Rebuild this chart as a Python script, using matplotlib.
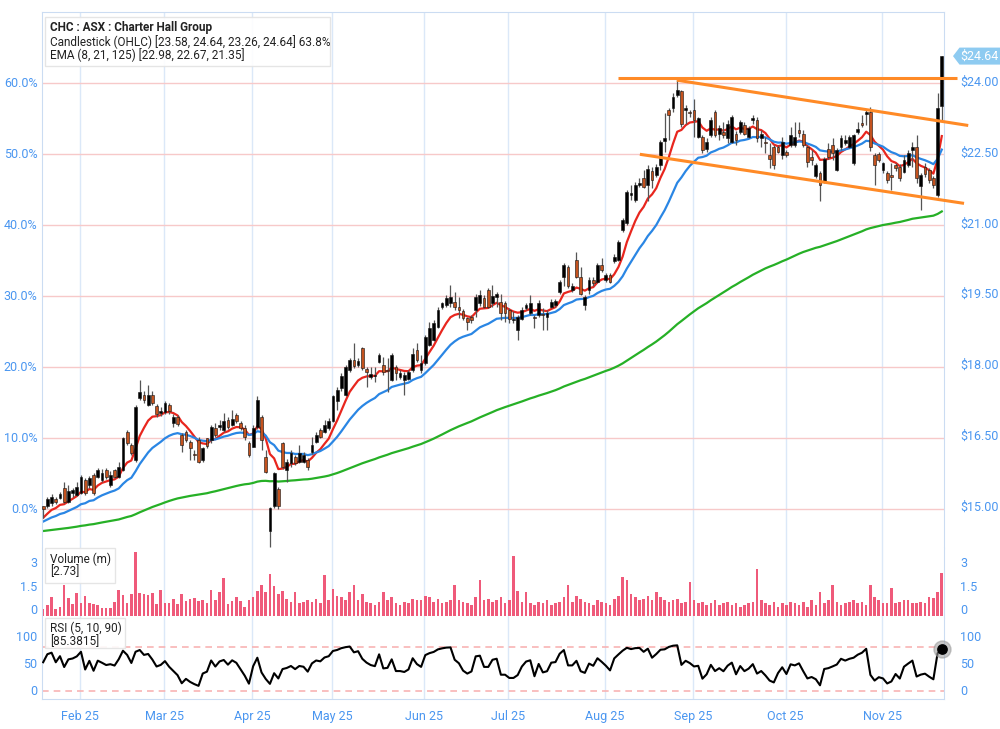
import numpy as np
import pandas as pd
import matplotlib
matplotlib.use('Agg')
import matplotlib.pyplot as plt
from matplotlib.patches import Rectangle, Polygon

plt.rcParams['font.family'] = ['Roboto', 'DejaVu Sans']

# ASX trading days, public holidays removed
days = pd.bdate_range('2025-01-20', '2025-11-21')
holidays = pd.to_datetime(['2025-01-27', '2025-04-18', '2025-04-21', '2025-04-25', '2025-06-09'])
days = days[~days.isin(holidays)]

opens = [
    15.10, 15.10, 15.17, 15.25, 15.28, 15.49, 15.20, 15.38, 15.35, 15.38,
    15.66, 15.55, 15.76, 15.73, 15.66, 15.87, 15.55, 15.87, 15.73, 15.87,
    16.68, 16.40, 16.08, 17.39, 17.46, 17.25, 17.46, 17.22, 17.09, 17.11,
    17.25, 16.86, 17.00, 16.61, 16.68, 16.47, 16.22, 16.51, 16.08, 16.54,
    16.51, 16.76, 16.79, 16.72, 16.93, 16.83, 17.04, 16.86, 16.76, 16.44,
    16.37, 16.79, 16.99, 16.15, 14.57, 15.10, 15.48, 16.44, 15.87, 16.01,
    16.15, 16.05, 16.05, 16.08, 16.26, 16.47, 16.72, 16.68, 16.76, 16.90,
    17.33, 17.60, 17.46, 17.99, 18.20, 18.10, 18.45, 18.02, 17.85, 17.87,
    18.17, 18.10, 18.00, 17.78, 18.06, 17.85, 17.78, 17.81, 17.99, 18.41,
    17.99, 18.13, 18.52, 18.63, 18.91, 19.33, 19.37, 19.40, 19.44, 19.33,
    19.23, 19.09, 19.12, 19.26, 19.40, 19.51, 19.69, 19.40, 19.54, 19.44,
    19.40, 19.26, 19.05, 18.84, 19.08, 19.30, 19.19, 19.12, 19.16, 19.18,
    19.12, 19.33, 19.37, 19.65, 19.97, 20.18, 19.69, 20.32, 19.97, 19.37,
    19.69, 19.90, 19.86, 20.21, 19.90, 20.00, 20.29, 20.32, 20.96, 21.10,
    21.70, 21.59, 21.91, 22.05, 21.90, 22.20, 22.12, 22.33, 22.85, 23.50,
    23.53, 23.81, 23.89, 23.50, 23.46, 23.50, 22.93, 22.93, 22.68, 22.97,
    23.46, 23.00, 23.04, 22.90, 22.83, 23.00, 23.04, 23.18, 22.93, 23.29,
    23.29, 22.90, 22.83, 22.54, 22.72, 22.71, 22.54, 22.61, 22.76, 22.76,
    23.07, 23.00, 22.72, 22.51, 22.09, 22.16, 21.98, 22.67, 22.76, 22.23,
    22.72, 22.79, 22.72, 22.37, 23.04, 23.23, 23.41, 23.46, 22.54, 22.56,
    22.23, 22.16, 22.12, 22.33, 22.30, 22.19, 22.33, 22.65, 22.72, 21.88,
    22.30, 22.23, 22.05, 21.70, 23.58]
highs = [
    15.12, 15.30, 15.36, 15.30, 15.40, 15.62, 15.55, 15.50, 15.62, 15.76,
    15.70, 15.75, 15.80, 15.91, 15.90, 15.92, 15.85, 15.90, 16.05, 16.58,
    16.72, 16.45, 17.25, 17.78, 17.55, 17.67, 17.55, 17.28, 17.20, 17.33,
    17.30, 17.05, 17.03, 16.65, 16.73, 16.50, 16.30, 16.58, 16.37, 16.56,
    16.83, 16.86, 16.93, 17.07, 17.00, 17.15, 17.08, 16.90, 16.83, 16.48,
    16.83, 17.43, 17.03, 16.30, 15.08, 15.83, 15.52, 16.47, 16.10, 16.30,
    16.20, 16.40, 16.26, 16.12, 16.58, 16.68, 16.76, 16.93, 16.98, 17.47,
    17.62, 17.92, 18.10, 18.24, 18.56, 18.24, 18.48, 18.06, 18.06, 18.06,
    18.36, 18.27, 18.24, 18.36, 18.10, 17.99, 17.95, 17.99, 18.45, 18.56,
    18.31, 18.73, 19.01, 19.05, 19.33, 19.44, 19.58, 19.79, 19.65, 19.54,
    19.28, 19.12, 19.16, 19.61, 19.69, 19.58, 19.72, 19.79, 19.65, 19.61,
    19.45, 19.30, 19.23, 19.15, 19.33, 19.42, 19.58, 19.16, 19.47, 19.30,
    19.26, 19.50, 19.50, 19.90, 20.25, 20.22, 19.83, 20.50, 20.18, 19.58,
    19.97, 19.97, 20.25, 20.36, 20.04, 20.04, 20.45, 20.74, 21.20, 21.80,
    21.91, 21.98, 22.05, 22.23, 22.33, 22.30, 22.35, 22.86, 23.43, 23.53,
    23.85, 24.13, 23.92, 23.60, 23.50, 23.74, 23.36, 22.97, 22.90, 23.36,
    23.50, 23.18, 23.25, 23.29, 23.40, 23.05, 23.29, 23.25, 23.15, 23.39,
    23.36, 23.07, 22.93, 22.79, 22.75, 22.75, 22.93, 22.65, 23.14, 23.25,
    23.25, 23.07, 22.76, 22.65, 22.37, 22.20, 22.51, 22.79, 22.90, 22.70,
    22.97, 22.97, 22.97, 23.00, 23.25, 23.39, 23.50, 23.57, 22.58, 22.60,
    22.40, 22.20, 22.37, 22.37, 22.35, 22.54, 22.65, 22.83, 22.97, 22.16,
    22.37, 22.26, 22.10, 23.86, 24.64]
lows = [
    14.85, 15.06, 15.12, 15.15, 15.25, 15.18, 15.18, 15.31, 15.32, 15.36,
    15.35, 15.50, 15.35, 15.70, 15.62, 15.68, 15.52, 15.70, 15.70, 15.85,
    16.40, 16.18, 16.05, 17.35, 17.30, 17.22, 17.25, 17.00, 17.02, 17.05,
    17.05, 16.78, 16.80, 16.26, 16.46, 16.08, 16.09, 16.02, 16.05, 16.33,
    16.45, 16.58, 16.72, 16.68, 16.75, 16.80, 16.86, 16.72, 16.51, 16.15,
    16.35, 16.75, 16.30, 15.80, 14.25, 15.06, 15.05, 15.90, 15.62, 15.94,
    15.98, 16.02, 16.03, 15.87, 16.22, 16.44, 16.54, 16.65, 16.73, 16.88,
    17.15, 17.55, 17.44, 17.95, 18.03, 18.05, 18.00, 17.64, 17.81, 17.74,
    18.13, 17.89, 17.53, 17.75, 17.78, 17.81, 17.46, 17.78, 17.95, 18.17,
    17.92, 18.10, 18.49, 18.60, 18.88, 19.28, 19.33, 19.33, 19.26, 19.09,
    19.05, 18.84, 18.98, 19.12, 19.35, 19.30, 19.30, 19.33, 19.33, 19.05,
    19.01, 18.98, 18.98, 18.63, 19.05, 19.26, 19.16, 18.87, 19.12, 18.84,
    18.84, 19.30, 19.33, 19.61, 19.76, 19.72, 19.65, 19.93, 19.58, 19.26,
    19.61, 19.76, 19.83, 20.07, 19.86, 19.83, 20.25, 20.29, 20.92, 21.06,
    21.59, 21.55, 21.87, 21.84, 21.56, 21.84, 22.08, 22.22, 22.60, 22.86,
    23.46, 23.78, 23.14, 23.20, 23.36, 22.93, 22.90, 22.58, 22.61, 22.93,
    22.93, 22.86, 22.90, 22.79, 22.80, 22.76, 23.00, 22.96, 22.90, 23.21,
    22.83, 22.72, 22.58, 22.26, 22.25, 22.58, 22.47, 22.50, 22.72, 22.72,
    22.93, 22.72, 22.30, 22.33, 22.05, 21.56, 21.95, 22.47, 22.44, 22.20,
    22.65, 22.76, 22.69, 22.33, 23.00, 23.14, 23.18, 22.62, 21.91, 22.40,
    22.16, 21.95, 21.80, 22.20, 22.00, 22.16, 22.30, 22.30, 21.95, 21.38,
    22.08, 21.95, 21.84, 21.66, 23.26]
closes = [
    15.04, 15.25, 15.31, 15.20, 15.37, 15.20, 15.42, 15.45, 15.52, 15.73,
    15.38, 15.70, 15.38, 15.87, 15.80, 15.73, 15.76, 15.73, 15.94, 16.54,
    16.44, 16.23, 17.21, 17.53, 17.36, 17.46, 17.29, 17.05, 17.12, 17.29,
    17.13, 17.00, 16.85, 16.40, 16.51, 16.33, 16.18, 16.05, 16.33, 16.38,
    16.79, 16.61, 16.83, 16.90, 16.79, 16.95, 16.90, 16.76, 16.58, 16.19,
    16.76, 17.35, 16.51, 15.84, 15.06, 15.80, 15.10, 15.94, 16.05, 16.23,
    16.01, 16.23, 16.19, 15.94, 16.40, 16.61, 16.58, 16.83, 16.92, 17.43,
    17.57, 17.86, 18.06, 18.20, 18.08, 18.18, 18.03, 17.95, 17.90, 17.88,
    18.31, 17.95, 17.97, 18.31, 17.92, 17.92, 17.89, 17.95, 18.34, 18.20,
    18.13, 18.70, 18.87, 18.98, 19.26, 19.40, 19.51, 19.54, 19.33, 19.26,
    19.09, 19.01, 19.05, 19.54, 19.58, 19.33, 19.33, 19.56, 19.60, 19.19,
    19.19, 19.08, 19.08, 19.12, 19.26, 19.37, 19.40, 19.10, 19.40, 19.16,
    19.19, 19.44, 19.46, 19.86, 20.21, 19.76, 19.76, 19.97, 19.61, 19.54,
    19.90, 19.83, 20.21, 20.11, 20.00, 19.86, 20.39, 20.71, 21.17, 21.77,
    21.73, 21.91, 21.95, 21.87, 22.24, 22.02, 22.30, 22.83, 22.90, 23.39,
    23.78, 23.92, 23.21, 23.53, 23.43, 23.29, 23.32, 22.65, 22.82, 23.29,
    22.97, 23.11, 22.97, 23.21, 23.36, 22.86, 23.25, 23.00, 23.11, 23.32,
    22.90, 23.00, 22.79, 22.47, 22.33, 22.61, 22.83, 22.54, 22.97, 22.93,
    23.02, 22.76, 22.40, 22.44, 22.33, 21.91, 22.47, 22.51, 22.58, 22.65,
    22.90, 22.86, 22.93, 22.97, 23.09, 23.18, 23.45, 22.72, 22.33, 22.44,
    22.37, 22.02, 22.07, 22.26, 22.05, 22.44, 22.58, 22.72, 22.05, 22.12,
    22.15, 22.02, 21.90, 23.55, 24.64]
# volume in millions
volume = [
    0.43, 0.70, 1.23, 0.45, 0.60, 1.98, 1.13, 0.77, 1.45, 0.85,
    1.30, 0.85, 0.77, 0.70, 0.53, 0.53, 0.53, 0.91, 1.66, 1.34,
    0.85, 1.38, 4.06, 1.45, 1.40, 1.34, 1.45, 0.74, 1.66, 0.85,
    0.85, 1.06, 0.77, 1.38, 0.96, 1.06, 1.17, 0.96, 1.02, 0.85,
    1.66, 1.02, 1.55, 2.40, 0.77, 0.96, 1.23, 0.96, 0.60, 1.02,
    1.20, 1.60, 2.00, 1.50, 2.70, 1.90, 1.40, 1.60, 1.10, 0.90,
    1.50, 0.80, 0.90, 1.00, 0.90, 1.10, 0.80, 2.60, 1.00, 1.70,
    1.30, 1.20, 1.00, 1.50, 2.00, 1.00, 1.40, 0.90, 0.80, 0.70,
    0.90, 1.50, 1.00, 1.20, 0.80, 0.70, 0.90, 0.80, 1.10, 1.00,
    1.00, 1.30, 1.20, 0.90, 1.10, 0.80, 0.90, 1.00, 2.00, 1.00,
    0.90, 0.80, 0.70, 1.20, 2.30, 1.00, 1.10, 0.90, 1.00, 1.20,
    0.80, 1.00, 3.80, 1.60, 0.90, 1.50, 0.80, 0.70, 0.90, 0.80,
    1.00, 0.70, 0.80, 0.90, 1.20, 2.00, 0.90, 1.30, 1.10, 0.90,
    0.80, 0.70, 1.00, 0.90, 0.80, 0.70, 1.10, 1.30, 2.50, 2.30,
    1.40, 1.20, 1.00, 1.10, 1.30, 1.00, 1.50, 1.20, 1.00, 0.90,
    1.00, 1.10, 0.80, 0.90, 2.20, 1.00, 0.80, 0.90, 0.70, 0.80,
    1.00, 0.70, 0.80, 0.90, 0.70, 0.80, 0.60, 0.70, 0.80, 0.90,
    3.00, 1.00, 0.80, 0.70, 0.90, 0.60, 0.80, 0.70, 0.90, 0.80,
    0.70, 0.90, 0.60, 1.00, 0.70, 1.50, 0.80, 1.00, 2.00, 0.90,
    0.70, 0.80, 0.90, 1.00, 0.80, 0.90, 0.70, 2.00, 1.20, 1.02,
    0.81, 0.81, 1.77, 0.81, 0.91, 1.02, 1.02, 0.81, 0.81, 0.91,
    0.81, 1.23, 1.13, 1.55, 2.73]

ema_periods = [8, 21, 125]
ema_first = [14.86, 14.78, 14.58]     # line values at the first bar
ema_colors = ['#e8261e', '#2a86e4', '#26b026']

rsi_period = 5
rsi_levels = [10, 90]

# hand drawn trend lines: (bar index, price)
top_x, top_y = [137.0, 217.6], [24.18, 24.18]
up_x, up_y = [150.9, 220.3], [24.13, 23.17]
low_x, low_y = [142.1, 219.3], [22.56, 21.52]

pct_ticks = [0, 10, 20, 30, 40, 50, 60]
price_ticks = [15.0, 16.5, 18.0, 19.5, 21.0, 22.5, 24.0]
vol_ticks = [0, 1.5, 3]
rsi_ticks = [0, 50, 100]

assert len(days) == len(opens) == len(highs) == len(lows) == len(closes) == len(volume)


def ema(vals, n, first):
    k = 2.0 / (n + 1)
    out = [first]
    for v in vals[1:]:
        out.append(out[-1] + k * (v - out[-1]))
    return np.array(out)


def rsi(vals, n, g0=0.05, l0=0.03):
    ag, al = g0, l0
    out = [100 * ag / (ag + al)]
    for a, b in zip(vals[:-1], vals[1:]):
        d = b - a
        ag = (ag * (n - 1) + max(d, 0)) / n
        al = (al * (n - 1) + max(-d, 0)) / n
        out.append(100 - 100 / (1 + ag / al))
    return np.array(out)


o = np.array(opens); h = np.array(highs); l = np.array(lows); c = np.array(closes)
x = np.arange(len(c))
base = c[0]

blue_txt = '#4a96f0'
frame = '#cbdcf2'
vgrid = '#dbe8f8'
hgrid = '#f7c9c9'

fig = plt.figure(figsize=(10, 7.29), dpi=100)
W, H = 1000.0, 729.0


def box(l_, t_, r_, b_):
    return [l_ / W, 1 - b_ / H, (r_ - l_) / W, (b_ - t_) / H]


ax = fig.add_axes(box(41.5, 12, 944.3, 548))
axv = fig.add_axes(box(41.5, 548, 944.3, 618), sharex=ax)
axr = fig.add_axes(box(41.5, 618, 944.3, 699), sharex=ax)

# month gridlines
month_idx = [i for i in range(1, len(days)) if days[i].month != days[i - 1].month]
month_pos = [i - 0.2 for i in month_idx]
month_lab = [days[i].strftime('%b %y') for i in month_idx]
for a in (ax, axv, axr):
    for p in month_pos:
        a.axvline(p, color=vgrid, lw=1, zorder=0)
    for s in a.spines.values():
        s.set_color(frame)
    a.tick_params(length=0)
    a.set_yticks([])

ax.spines['bottom'].set_visible(False)
axv.spines['top'].set_visible(False)
axv.spines['bottom'].set_visible(False)
axr.spines['top'].set_visible(False)

# main panel
for p in pct_ticks:
    ax.axhline(base * (1 + p / 100), color=hgrid, lw=1, zorder=0)

up = c >= o
ax.vlines(x, l, h, color='#555555', lw=0.9, zorder=3)
body = np.maximum(np.abs(c - o), 0.015)
ax.bar(x, body, bottom=np.minimum(o, c), width=0.66,
       color=np.where(up, '#000000', '#c4521e'), edgecolor='#111111',
       linewidth=0.4, zorder=4)

for n, f, col in zip(ema_periods, ema_first, ema_colors):
    ax.plot(x, ema(c, n, f), color=col, lw=1.6, zorder=2)

for xs, ys in ((top_x, top_y), (up_x, up_y), (low_x, low_y)):
    ax.plot(xs, ys, color='#ff8a26', lw=2.2, zorder=5, clip_on=False,
            solid_capstyle='butt')

ax.set_xlim(-0.4, len(c) - 0.4)
ax.set_ylim(14.22, 25.574)
plt.setp(ax.get_xticklabels(), visible=False)
plt.setp(axv.get_xticklabels(), visible=False)


def ylab(a, val, txt, side, dy):
    if side == 'left':
        a.annotate(txt, xy=(0, val), xycoords=('axes fraction', 'data'),
                   xytext=(-4, dy), textcoords='offset pixels', ha='right',
                   va='center', color=blue_txt, fontsize=9)
    else:
        a.annotate(txt, xy=(1, val), xycoords=('axes fraction', 'data'),
                   xytext=(16, dy), textcoords='offset pixels', ha='left',
                   va='center', color=blue_txt, fontsize=9)


for p in pct_ticks:
    ylab(ax, base * (1 + p / 100), '%.1f%%' % p, 'left', 0)
for p in price_ticks:
    ylab(ax, p, '$%.2f' % p, 'right', 4)

# last price tag (arrow box at the right edge)
yc = H - ax.transData.transform((0, c[-1]))[1]
tag = [(953, yc), (959.5, yc - 8.5), (1000, yc - 8.5), (1000, yc + 8.5), (959.5, yc + 8.5)]
fig.add_artist(Polygon([(px / W, 1 - py / H) for px, py in tag], closed=True,
                       transform=fig.transFigure, fc='#8ecbf1', ec='none', zorder=10))
fig.text(979.5 / W, 1 - yc / H, '$%.2f' % c[-1], color='white', fontsize=9,
         ha='center', va='center', zorder=11)

# volume
axv.bar(x, volume, width=0.62, color='#ef5a7a', zorder=2)
axv.set_ylim(-0.128, 4.34)
for v in vol_ticks:
    lab = ('%g' % v)
    ylab(axv, v, lab, 'left', 5)
    ylab(axv, v, lab, 'right', 5)

# rsi
r = rsi(c, rsi_period)
for lv in rsi_levels:
    axr.axhline(lv, color='#f8b4b4', lw=1.2, ls=(0, (4, 3)), zorder=1)
axr.plot(x, r, color='black', lw=1.5, zorder=3)
axr.scatter([x[-1]], [r[-1]], s=150, color='#9a9a9a', alpha=0.55, zorder=4, clip_on=False)
axr.scatter([x[-1]], [r[-1]], s=45, color='black', zorder=5, clip_on=False)
axr.set_ylim(-5.6, 144.4)
for v in rsi_ticks:
    ylab(axr, v, '%d' % v, 'left', 4)
    ylab(axr, v, '%d' % v, 'right', 4)

axr.set_xticks(month_pos)
axr.set_xticklabels(month_lab)
axr.tick_params(axis='x', length=0, pad=8, labelcolor=blue_txt, labelsize=9)


# legend boxes
def legend(l_, t_, r_, b_, lines, ys):
    fig.add_artist(Rectangle((l_ / W, 1 - b_ / H), (r_ - l_) / W, (b_ - t_) / H,
                             transform=fig.transFigure, fc='white', ec='#e3e3e3',
                             lw=1, alpha=0.9, zorder=10))
    for (txt, bold), yy in zip(lines, ys):
        fig.text((l_ + 5) / W, 1 - yy / H, txt, fontsize=8.5, va='center',
                 ha='left', color='#222222', zorder=11,
                 fontweight='bold' if bold else 'normal')


legend(45, 17, 330, 66,
       [('CHC : ASX : Charter Hall Group', True),
        ('Candlestick (OHLC) [%.2f, %.2f, %.2f, %.2f] %.1f%%'
         % (o[-1], h[-1], l[-1], c[-1], (c[-1] / base - 1) * 100), False),
        ('EMA (8, 21, 125) [22.98, 22.67, 21.35]', False)],
       [28, 42, 55.5])
legend(45, 548, 115, 583, [('Volume (m)', False), ('[%.2f]' % volume[-1], False)], [559, 572])
legend(45, 618, 125, 648, [('RSI (5, 10, 90)', False), ('[85.3815]', False)], [628, 641.5])

fig.savefig('out.png', dpi=100)
